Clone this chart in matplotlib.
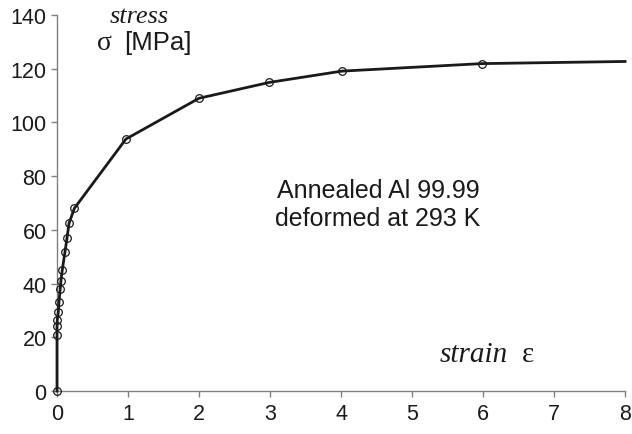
import matplotlib
matplotlib.use("Agg")
import matplotlib.pyplot as plt

strain = [0.0, 0.0, 0.0, 0.004, 0.018, 0.028, 0.045, 0.056, 0.075, 0.113, 0.141, 0.169, 0.244,
          0.97, 2.0, 2.99, 4.01, 5.98]
stress = [0.0, 20.8, 24.3, 26.5, 29.4, 33.2, 38.0, 41.1, 45.2, 51.9, 57.0, 62.4, 68.0,
          93.8, 109.0, 114.9, 119.1, 121.9]
line_end_strain = [5.98, 8.0]
line_end_stress = [121.9, 122.7]

xticks = [0, 1, 2, 3, 4, 5, 6, 7, 8]
yticks = [0, 20, 40, 60, 80, 100, 120, 140]

plt.rcParams['font.family'] = ['Liberation Sans', 'DejaVu Sans']

fig = plt.figure(figsize=(6.32, 4.35), dpi=100)
ax = fig.add_axes([0.0902, 0.0989, 0.8988, 0.8643])

ax.plot(strain + line_end_strain[1:], stress + line_end_stress[1:], color='#1a1a1a', lw=2.0,
        zorder=3, clip_on=False)
ax.plot(strain, stress, linestyle='none', marker='o', markersize=5.5, markerfacecolor='none',
        markeredgecolor='#1a1a1a', markeredgewidth=0.9, zorder=4, clip_on=False)

ax.set_xlim(0, 8)
ax.set_ylim(0, 140)
ax.set_xticks(xticks)
ax.set_yticks(yticks)
for s in ['top', 'right']:
    ax.spines[s].set_visible(False)
for s in ['left', 'bottom']:
    ax.spines[s].set_color('#808080')
    ax.spines[s].set_linewidth(1.0)
ax.tick_params(axis='both', colors='#808080', length=4, width=1.0, labelsize=15.5,
               labelcolor='#1a1a1a', direction='out')
ax.tick_params(axis='x', pad=5)

ax.text(0.145, 0.997, 'stress', transform=ax.transAxes, family=['Liberation Serif'],
        style='italic', fontsize=19, ha='center', va='center', color='#1a1a1a')
ax.text(0.07, 0.928, 'σ', transform=ax.transAxes, family=['Liberation Serif', 'DejaVu Serif'],
        fontsize=20, ha='left', va='center', color='#1a1a1a')
ax.text(0.119, 0.928, '[MPa]', transform=ax.transAxes, fontsize=18.5, ha='left', va='center',
        color='#1a1a1a')

ax.text(0.565, 0.497, 'Annealed Al 99.99\ndeformed at 293 K', transform=ax.transAxes,
        fontsize=18, ha='center', va='center', linespacing=1.2, color='#1a1a1a')

ax.text(0.673, 0.098, 'strain', transform=ax.transAxes, family=['Liberation Serif'],
        style='italic', fontsize=21, ha='left', va='center', color='#1a1a1a')
ax.text(0.818, 0.098, 'ε', transform=ax.transAxes, family=['Liberation Serif', 'DejaVu Serif'],
        fontsize=21, ha='left', va='center', color='#1a1a1a')

fig.savefig('out.png', dpi=100)
